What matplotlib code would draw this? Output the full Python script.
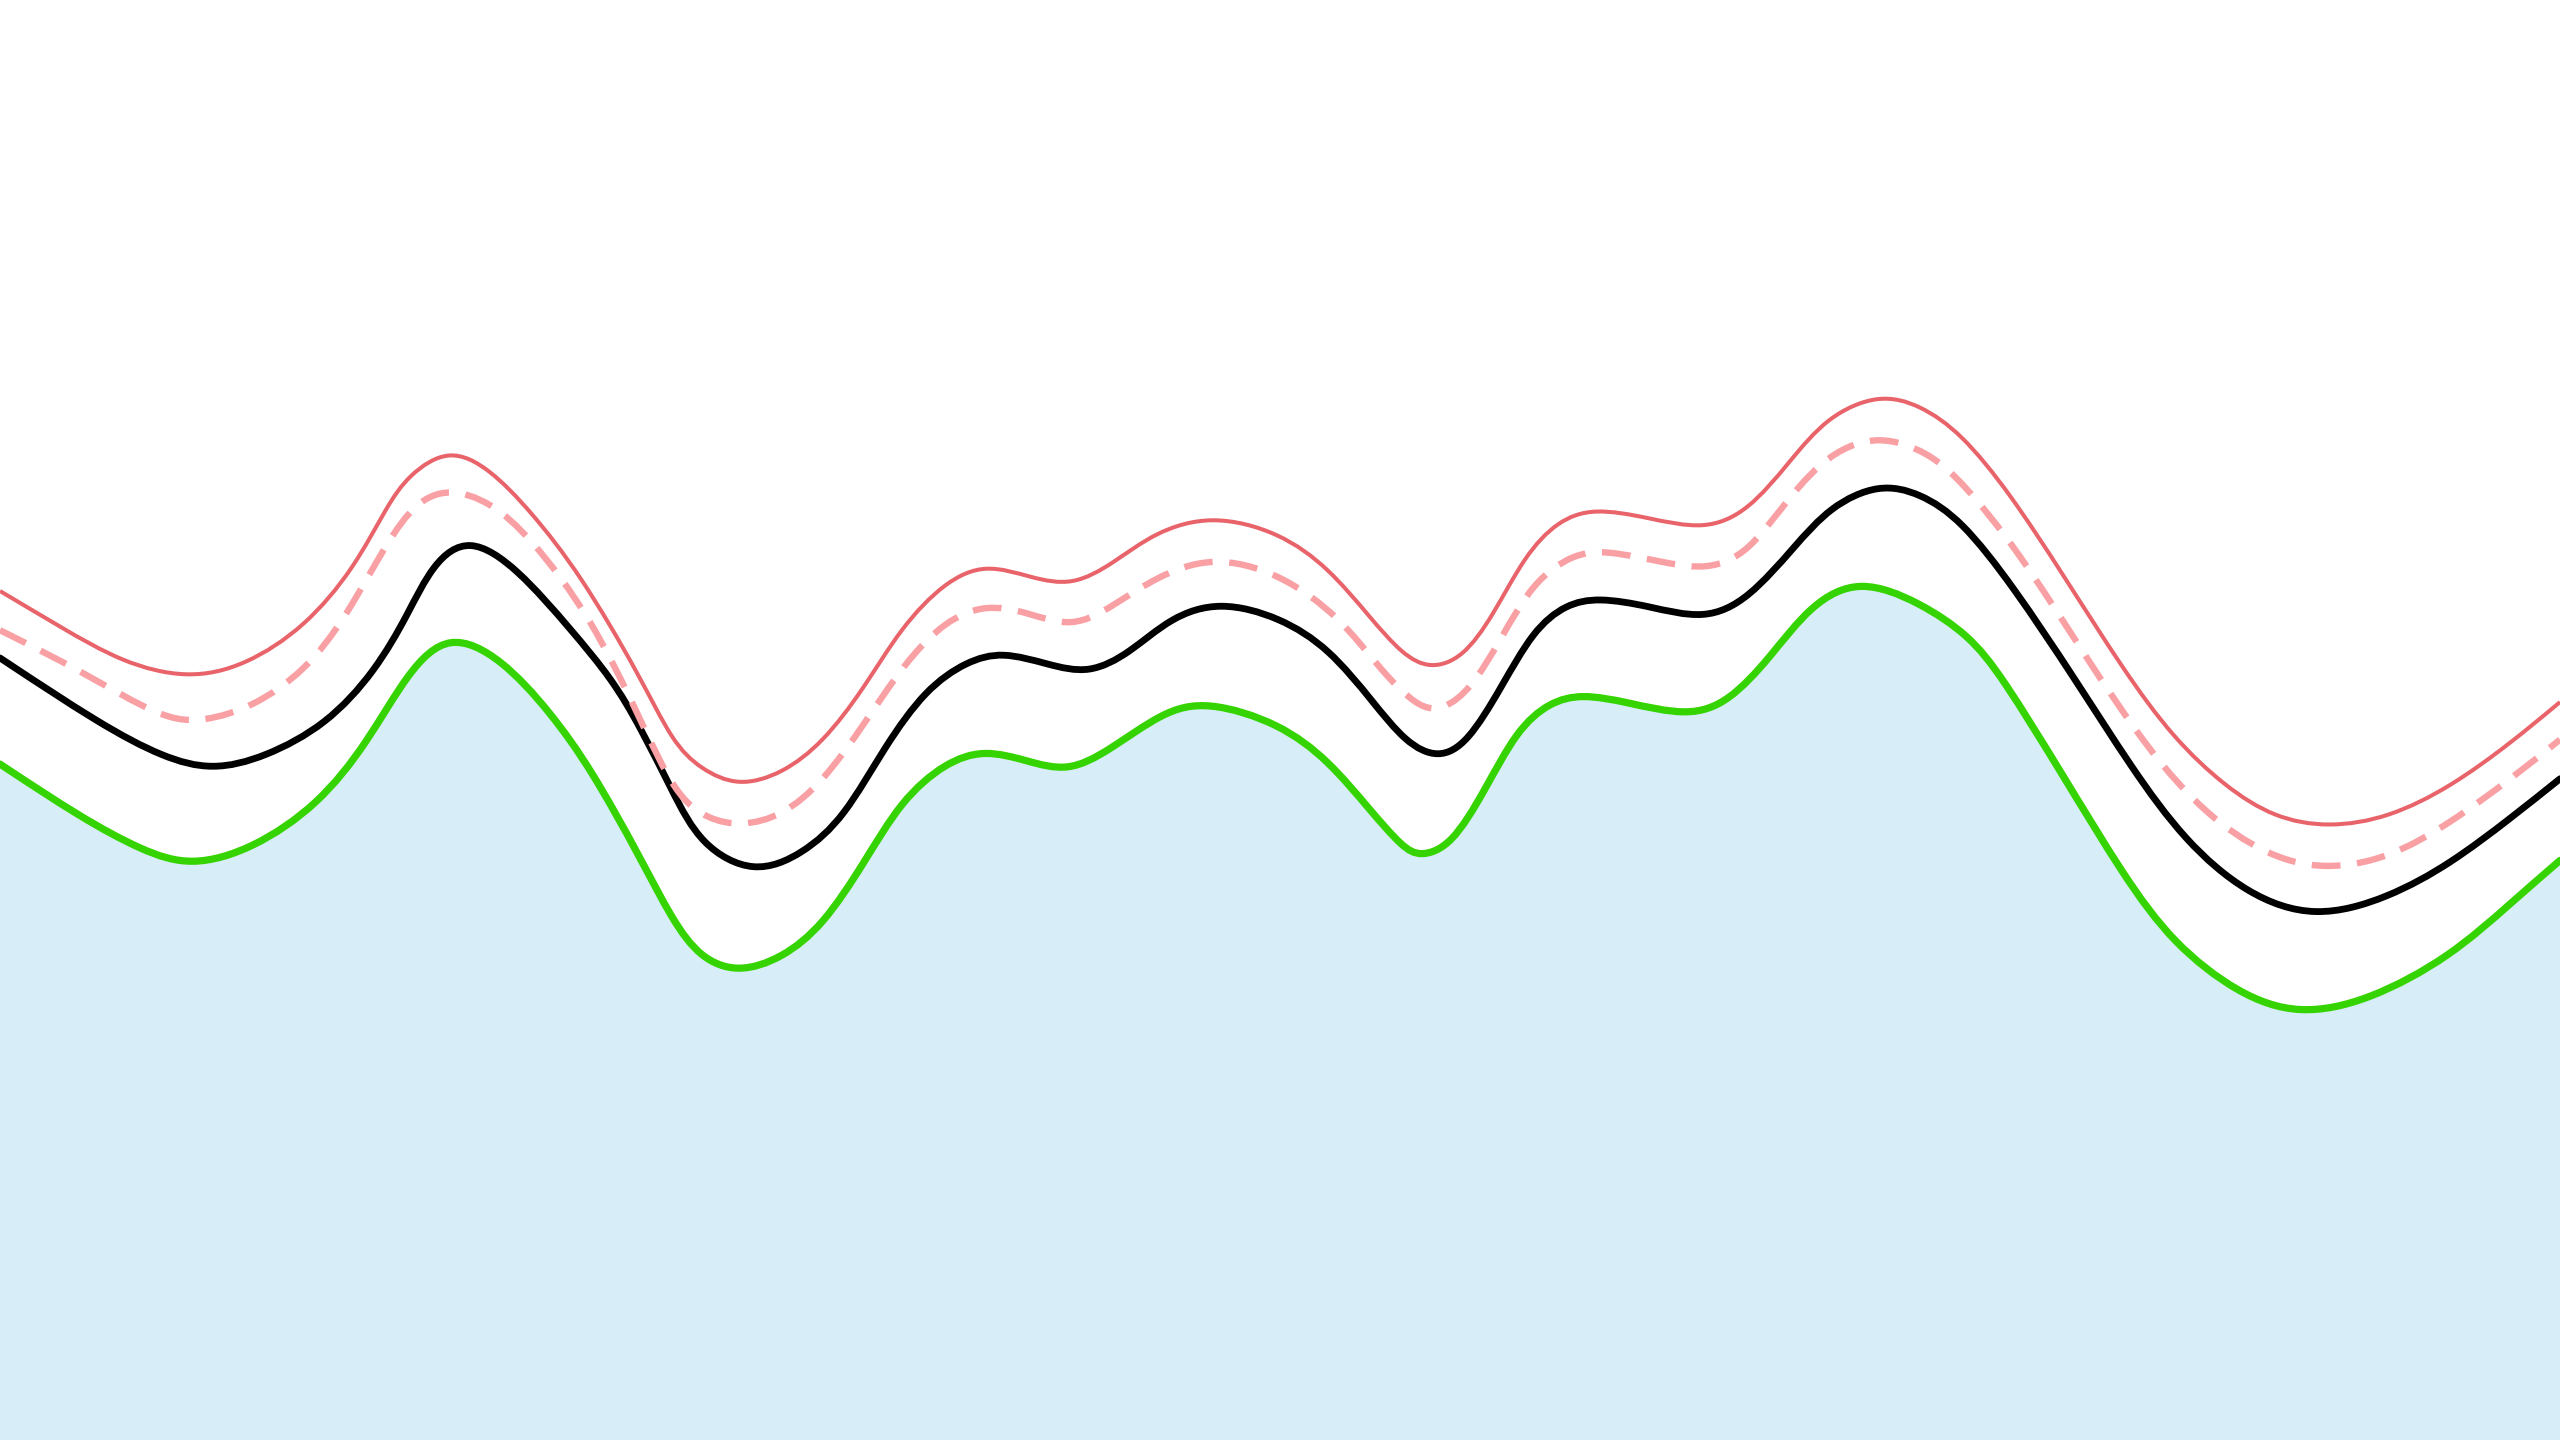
from matplotlib import pyplot as plt
from matplotlib.path import Path
from matplotlib.patches import PathPatch
import numpy as np

# canvas units: width 1568, height 882, y measured from the top
width, height = 1568, 882

red_x = [0, 37, 75, 115, 150, 187, 217, 237, 250, 275, 300, 325, 355, 392, 412,
         429, 452, 479, 504, 529, 552, 579, 604, 632, 657, 682, 707, 742, 784,
         814, 839, 859, 876, 896, 914, 934, 954, 976, 1009, 1044, 1071, 1096,
         1119, 1151, 1176, 1201, 1231, 1263, 1301, 1331, 1363, 1393, 1426, 1463,
         1501, 1538, 1568]
red_y = [362, 384, 406, 416, 408, 384, 348, 310, 291, 274, 287, 313, 351, 414, 455,
         471, 482, 474, 455, 422, 384, 356, 345, 354, 359, 345, 326, 315, 326,
         348, 378, 401, 410, 403, 378, 340, 319, 311, 317, 325, 313, 283,
         255, 241, 248, 265, 302, 351, 411, 452, 482, 501, 507, 501,
         482, 455, 430]

dash_x = [0, 50, 100, 125, 155, 187, 212, 237, 255, 275, 300, 325, 362, 392, 414,
          434, 454, 479, 504, 529, 554, 579, 604, 629, 657, 682, 707, 742, 784,
          821, 846, 869, 884, 901, 919, 939, 964, 984, 1021, 1046, 1071, 1096,
          1121, 1151, 1181, 1201, 1236, 1276, 1316, 1351, 1388, 1423, 1463, 1501,
          1538, 1568]
dash_y = [386, 411, 441, 442, 433, 411, 378, 332, 307, 299, 307, 329, 378, 440, 488,
          502, 506, 500, 479, 444, 406, 380, 370, 375, 385, 371, 354, 340, 351,
          378, 411, 434, 435, 422, 392, 356, 339, 337, 345, 349, 339, 304,
          277, 266, 277, 294, 337, 400, 460, 499, 524, 533, 526, 504,
          477, 453]

black_x = [0, 62, 100, 130, 162, 200, 230, 250, 265, 287, 317, 350, 375, 392, 412,
           429, 462, 492, 517, 542, 567, 592, 614, 642, 667, 692, 717, 747, 784,
           814, 841, 861, 881, 899, 919, 939, 959, 979, 1009, 1044, 1071, 1099,
           1121, 1151, 1176, 1201, 1233, 1271, 1306, 1338, 1376, 1418, 1463, 1501,
           1538, 1568]
black_y = [403, 444, 464, 472, 464, 444, 411, 376, 345, 328, 348, 386, 416, 445, 485,
           518, 536, 523, 501, 457, 422, 405, 399, 407, 413, 400, 378, 368, 378,
           397, 430, 455, 465, 455, 422, 386, 370, 366, 371, 380, 367, 335,
           310, 296, 302, 318, 359, 416, 471, 515, 548, 563, 550, 529,
           501, 477]

green_x = [0, 50, 87, 117, 155, 195, 225, 250, 275, 307, 337, 362, 392, 412, 429,
           452, 479, 504, 529, 552, 579, 603, 629, 654, 679, 712, 739, 784, 814,
           839, 859, 870, 889, 909, 929, 949, 969, 996, 1034, 1059, 1084, 1109,
           1139, 1176, 1206, 1226, 1263, 1301, 1331, 1371, 1408, 1451, 1501, 1538,
           1568]
green_y = [468, 501, 521, 531, 520, 493, 455, 411, 387, 403, 436, 471, 525, 564, 587,
           596, 587, 567, 529, 490, 467, 459, 466, 473, 460, 436, 429, 443, 466,
           496, 519, 525, 518, 485, 447, 430, 425, 430, 439, 430, 403, 370,
           354, 369, 389, 414, 474, 537, 578, 609, 622, 613, 586, 553,
           527]


def smooth_path(xs, ys, close_bottom=False):
    # cubic b-spline through the readings, written as bezier segments
    p = np.column_stack([xs, ys]).astype(float)
    q = np.vstack([p[0], p[0], p, p[-1], p[-1]])
    verts = [p[0]]
    codes = [Path.MOVETO]
    for i in range(len(q) - 3):
        q0, q1, q2, q3 = q[i], q[i + 1], q[i + 2], q[i + 3]
        verts += [(2 * q1 + q2) / 3, (q1 + 2 * q2) / 3, (q1 + 4 * q2 + q3) / 6]
        codes += [Path.CURVE4] * 3
    if close_bottom:
        verts += [(xs[-1], height), (xs[0], height), p[0]]
        codes += [Path.LINETO, Path.LINETO, Path.CLOSEPOLY]
    return Path(verts, codes)


fig = plt.figure(figsize=(25.6, 14.4), dpi=100)
ax = fig.add_axes([0, 0, 1, 1])

ax.add_patch(PathPatch(smooth_path(green_x, green_y, close_bottom=True),
                       facecolor="#d7eef8", edgecolor="none"))
ax.add_patch(PathPatch(smooth_path(green_x, green_y), fill=False,
                       edgecolor="#35d400", lw=5.2, capstyle="round"))
ax.add_patch(PathPatch(smooth_path(black_x, black_y), fill=False,
                       edgecolor="black", lw=4.9, capstyle="round"))
ax.add_patch(PathPatch(smooth_path(dash_x, dash_y), fill=False,
                       edgecolor="#f9a0a4", lw=4.6, linestyle=(0, (4.5, 2.6))))
ax.add_patch(PathPatch(smooth_path(red_x, red_y), fill=False,
                       edgecolor="#e8646a", lw=2.9))

ax.set_xlim(0, width)
ax.set_ylim(height, 0)
ax.axis("off")

plt.savefig("out.png", dpi=100)
